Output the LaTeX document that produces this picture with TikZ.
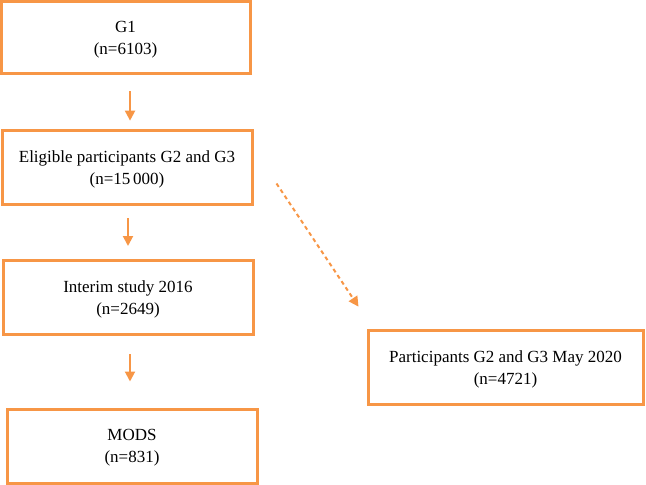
\documentclass[tikz,border=0pt]{standalone}
\usepackage{fontspec}
\setmainfont{Liberation Serif}
\usetikzlibrary{arrows.meta,calc}
\definecolor{boxorange}{RGB}{247,150,70}

\begin{document}
\begin{tikzpicture}[x=0.75pt, y=-0.75pt,
    stagebox/.style={draw=boxorange, line width=2.25pt, align=center,
                     minimum width=187.5pt, minimum height=56pt, inner sep=0pt,
                     text depth=-2.5pt, font=\fontsize{12.75}{16}\selectfont},
    flow/.style={draw=boxorange, line width=1.5pt, -{Triangle[length=7.5pt,width=7.5pt]}},
    dashflow/.style={flow, dash pattern=on 3pt off 2.5pt}]
  \useasboundingbox (0,0) rectangle (646,485);
  \node[stagebox, minimum width=186.75pt, minimum height=54pt] (g1) at (125.5,38) {G1\\(n=6103)};
  \node[stagebox] (elig) at (127,167.5) {Eligible participants G2 and G3\\(n=15\,000)};
  \node[stagebox] (interim) at (128,297.5) {Interim study 2016\\(n=2649)};
  \node[stagebox, minimum height=55.5pt] (mods) at (132,446) {MODS\\(n=831)};
  \node[stagebox, minimum width=206.25pt] (part) at (505.5,367.5) {Participants G2 and G3 May 2020\\(n=4721)};
  % free ends of the dashed arrow
  \coordinate (d1) at ($(elig.east)+(23,16)$);
  \coordinate (d2) at ($(part.north west)+(-8,-22)$);
  \draw[flow, shorten <=12pt, shorten >=6pt] ([xshift=3.4pt]g1.south) -- ([xshift=3.4pt]g1.south |- elig.north);
  \draw[flow, shorten <=9pt, shorten >=9.5pt] ([xshift=0.75pt]elig.south) -- ([xshift=0.75pt]elig.south |- interim.north);
  \draw[flow, shorten <=13.5pt, shorten >=19.5pt] ([xshift=1.5pt]interim.south) -- ([xshift=1.5pt]interim.south |- mods.north);
  \draw[dashflow] (d1) -- (d2);
\end{tikzpicture}
\end{document}
